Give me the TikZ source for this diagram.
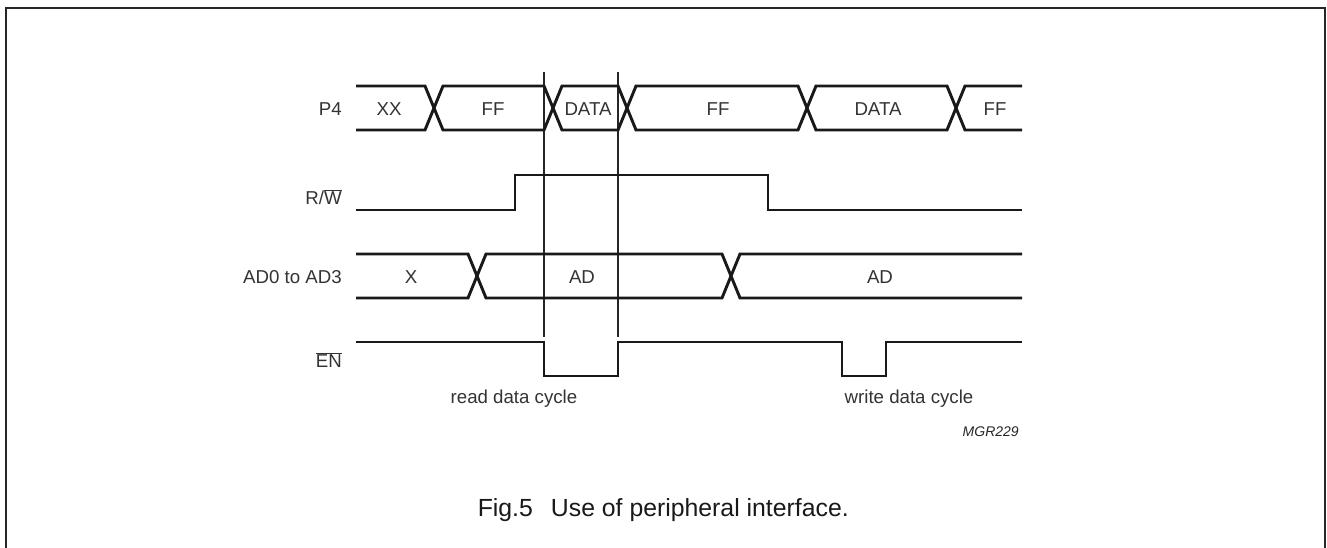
\documentclass[tikz,border=0pt]{standalone}
\usepackage{fontspec}
\setmainfont{Liberation Sans}
\begin{document}
\begin{tikzpicture}[x=0.75pt,y=-0.75pt,
  sig/.style={line width=2.2pt,line join=miter,color=black!90},
  thin/.style={line width=0.8pt,color=black!85},
  lbl/.style={font=\fontsize{14}{17}\selectfont,text=black!80,inner sep=0pt},
  caption/.style={font=\fontsize{18.6}{22}\selectfont,text=black!90,inner sep=0pt},
  code/.style={font=\fontsize{10.5}{13}\selectfont\itshape,text=black!85,inner sep=0pt}]
\useasboundingbox (0,0) rectangle (1327,548);
\fill[white] (0,0) rectangle (1327,548);
% frame
\draw[line width=1.5pt,color=black!85] (6,560) -- (6,8.5) -- (1325,8.5) -- (1325,560);
% thin marker lines
\draw[thin] (544,72) -- (544,337);
\draw[thin] (618,72) -- (618,337);
% P4 bus: top 86, bottom 130, mid 108
\draw[sig] (356,86) -- (425,86) -- (443,130) -- (544,130) -- (562,86) -- (618,86) -- (636,130) -- (798,130) -- (816,86) -- (947,86) -- (965,130) -- (1022,130);
\draw[sig] (356,130) -- (425,130) -- (443,86) -- (544,86) -- (562,130) -- (618,130) -- (636,86) -- (798,86) -- (816,130) -- (947,130) -- (965,86) -- (1022,86);
% R/W
\draw[sig] (356,210) -- (515,210) -- (515,175) -- (768,175) -- (768,210) -- (1022,210);
% AD bus: top 254 bottom 298
\draw[sig] (356,254) -- (468,254) -- (486,298) -- (722,298) -- (740,254) -- (1022,254);
\draw[sig] (356,298) -- (468,298) -- (486,254) -- (722,254) -- (740,298) -- (1022,298);
% EN
\draw[sig] (356,342) -- (544,342) -- (544,376) -- (618,376) -- (618,342) -- (842,342) -- (842,376) -- (886,376) -- (886,342) -- (1022,342);
% signal names
\node[lbl,anchor=east] (nP4) at (342,109) {P4};
\node[lbl,anchor=east] (nRW) at (342,197) {R/$\overline{\mbox{W}}$};
\node[lbl,anchor=east] (nAD) at (342,277) {AD0 to AD3};
\node[lbl,anchor=east] (nEN) at (342,360) {$\overline{\mbox{EN}}$};
% P4 values
\node[lbl] (v1) at (389,109) {XX};
\node[lbl] (v2) at (493,109) {FF};
\node[lbl] (v3) at (588,109) {DATA};
\node[lbl] (v4) at (718,109) {FF};
\node[lbl] (v5) at (878,109) {DATA};
\node[lbl] (v6) at (995,109) {FF};
% AD values
\node[lbl] (a1) at (411,277) {X};
\node[lbl] (a2) at (582,277) {AD};
\node[lbl] (a3) at (880,277) {AD};
% annotations
\node[lbl] (rd) at (514,399) {read data cycle};
\node[lbl] (wr) at (909,399) {write data cycle};
\node[code,anchor=east] (mgr) at (1019,432) {MGR229};
\node[caption,anchor=base east] (cap) at (849,516) {Fig.5\hspace{0.45em} Use of peripheral interface.};
\end{tikzpicture}
\end{document}
